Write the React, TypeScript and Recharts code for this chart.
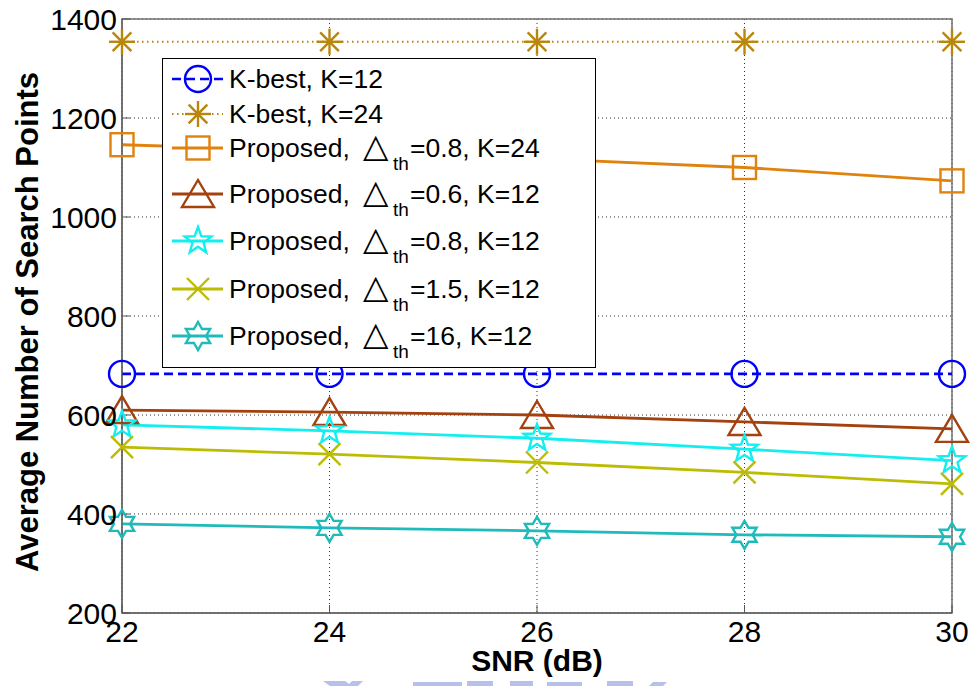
import React from "react";
import { LineChart, Line, XAxis, YAxis, CartesianGrid, Legend, ReferenceArea } from "recharts";

// SNR sweep (dB) and average number of search points per detector setting
const snr = [22, 24, 26, 28, 30];
const kBest12 = [683, 683, 683, 683, 683];
const kBest24 = [1354, 1354, 1354, 1354, 1354];
const prop08K24 = [1146, 1133, 1118, 1100, 1073];
const prop06K12 = [610, 606, 600, 586, 572];
const prop08K12 = [580, 568, 553, 531, 508];
const prop15K12 = [535, 521, 504, 484, 461];
const prop16K12 = [380, 372, 366, 358, 354];

const xTicks = [22, 24, 26, 28, 30];
const yTicks = [200, 400, 600, 800, 1000, 1200, 1400];

const FONT = "'Liberation Sans', Arial, sans-serif";

type Shape = "circle" | "asterisk" | "square" | "triangle" | "pentagram" | "cross" | "hexagram";

interface Series {
  key: string;
  values: number[];
  color: string;
  shape: Shape;
  dash?: string;
  width: number;
  label?: string;
  delta?: string;
}

const series: Series[] = [
  { key: "kb12", values: kBest12, color: "#0000ff", shape: "circle", dash: "9 5", width: 2.6, label: "K-best, K=12" },
  { key: "kb24", values: kBest24, color: "#b8860b", shape: "asterisk", dash: "1.5 3.5", width: 2, label: "K-best, K=24" },
  { key: "p08k24", values: prop08K24, color: "#e0820e", shape: "square", width: 2.8, delta: "=0.8, K=24" },
  { key: "p06k12", values: prop06K12, color: "#a3410f", shape: "triangle", width: 2.8, delta: "=0.6, K=12" },
  { key: "p08k12", values: prop08K12, color: "#14eeee", shape: "pentagram", width: 2.8, delta: "=0.8, K=12" },
  { key: "p15k12", values: prop15K12, color: "#bcbc05", shape: "cross", width: 2.8, delta: "=1.5, K=12" },
  { key: "p16k12", values: prop16K12, color: "#1fbaba", shape: "hexagram", width: 2.8, delta: "=16, K=12" },
];

const data = snr.map((s, i) => {
  const row: Record<string, number> = { snr: s };
  series.forEach((sr) => (row[sr.key] = sr.values[i]));
  return row;
});

function starPoints(cx: number, cy: number, n: number, R: number, r: number) {
  const pts: string[] = [];
  for (let i = 0; i < n * 2; i++) {
    const a = -Math.PI / 2 + (i * Math.PI) / n;
    const rad = i % 2 === 0 ? R : r;
    pts.push(`${cx + rad * Math.cos(a)},${cy + rad * Math.sin(a)}`);
  }
  return pts.join(" ");
}

function Marker({ shape, cx, cy, color }: { shape: Shape; cx: number; cy: number; color: string }) {
  const st = { fill: "none", stroke: color, strokeWidth: 2.4 };
  switch (shape) {
    case "circle":
      return <circle cx={cx} cy={cy} r={13} {...st} />;
    case "asterisk": {
      const r = 13;
      const d = r * 0.72;
      return (
        <g {...st}>
          <line x1={cx - r} y1={cy} x2={cx + r} y2={cy} />
          <line x1={cx} y1={cy - r} x2={cx} y2={cy + r} />
          <line x1={cx - d} y1={cy - d} x2={cx + d} y2={cy + d} />
          <line x1={cx - d} y1={cy + d} x2={cx + d} y2={cy - d} />
        </g>
      );
    }
    case "square":
      return <rect x={cx - 11.5} y={cy - 11.5} width={23} height={23} {...st} />;
    case "triangle":
      return <polygon points={`${cx},${cy - 14} ${cx - 16},${cy + 13} ${cx + 16},${cy + 13}`} {...st} />;
    case "pentagram":
      return <polygon points={starPoints(cx, cy, 5, 14, 5.8)} {...st} />;
    case "cross":
      return (
        <g {...st}>
          <line x1={cx - 11} y1={cy - 11} x2={cx + 11} y2={cy + 11} />
          <line x1={cx - 11} y1={cy + 11} x2={cx + 11} y2={cy - 11} />
        </g>
      );
    case "hexagram":
      return <polygon points={starPoints(cx, cy, 6, 14, 8.1)} {...st} />;
  }
  return null;
}

// legend rows: baseline of the text, measured from the top of the box
const rowBase = [30, 65, 99, 145, 192, 240, 287];

function LegendBox() {
  return (
    <svg width={434} height={310} style={{ display: "block" }}>
      <rect x={0.5} y={0.5} width={433} height={309} fill="#fff" stroke="#000" strokeWidth={1} />
      {series.map((s, i) => {
        const by = rowBase[i];
        const my = by - 9;
        return (
          <g key={s.key}>
            <line x1={10} y1={my} x2={61} y2={my} stroke={s.color} strokeWidth={s.width} strokeDasharray={s.dash} />
            <Marker shape={s.shape} cx={36} cy={my} color={s.color} />
            {s.label ? (
              <text x={67} y={by} fontFamily={FONT} fontSize={26.5} fill="#000">
                {s.label}
              </text>
            ) : (
              <text y={by} fontFamily={FONT} fontSize={26.5} fill="#000">
                <tspan x={67}>Proposed,</tspan>
                <tspan x={201} fontFamily="'DejaVu Sans', sans-serif" fontSize={33}>
                  △
                </tspan>
                <tspan x={231} dy={13} fontSize={19}>
                  th
                </tspan>
                <tspan x={248} dy={-13}>
                  {s.delta}
                </tspan>
              </text>
            )}
          </g>
        );
      })}
    </svg>
  );
}

// faint stamp peeking in along the bottom edge of the page
const stampBits = [
  "323,681 345,681 352,686 330,686",
  "352,681 363,681 358,686 347,686",
  "413,682 462,682 462,686 413,686",
  "467,681 493,681 493,686 467,686",
  "510,681 533,681 533,686 510,686",
  "547,682 582,682 582,686 547,686",
  "607,681 633,681 633,686 607,686",
  "653,682 667,682 663,686 649,686",
];

export default function App() {
  return (
    <div style={{ position: "absolute", left: 0, top: 0, width: 971, height: 686, background: "#fff" }}>
      <svg width={971} height={686} style={{ position: "absolute", left: 0, top: 0 }}>
        {stampBits.map((p, i) => (
          <polygon key={i} points={p} fill="#b6c0e8" />
        ))}
      </svg>
      <LineChart width={971} height={686} data={data} margin={{ top: 19, right: 19, left: 0, bottom: 0 }}>
        <CartesianGrid stroke="#333" strokeDasharray="1 3" strokeWidth={1} />
        <XAxis
          dataKey="snr"
          type="number"
          domain={[22, 30]}
          ticks={xTicks}
          height={73}
          tickSize={-8}
          tickMargin={16}
          stroke="#555"
          tick={{ fontSize: 30, fill: "#000", fontFamily: FONT }}
          label={(p: any) => (
            <text
              x={p.viewBox.x + p.viewBox.width / 2}
              y={p.viewBox.y + 58}
              textAnchor="middle"
              fontFamily={FONT}
              fontWeight="bold"
              fontSize={30}
              fill="#000"
            >
              SNR (dB)
            </text>
          )}
        />
        <YAxis
          type="number"
          domain={[200, 1400]}
          ticks={yTicks}
          width={122}
          tickSize={-8}
          tickMargin={13}
          stroke="#555"
          tick={{ fontSize: 30, fill: "#000", fontFamily: FONT }}
          label={(p: any) => {
            const x = p.viewBox.x + 38;
            const y = p.viewBox.y + p.viewBox.height / 2 + 6;
            return (
              <text
                x={x}
                y={y}
                transform={`rotate(-90 ${x} ${y})`}
                textAnchor="middle"
                fontFamily={FONT}
                fontWeight="bold"
                fontSize={31}
                fill="#000"
              >
                Average Number of Search Points
              </text>
            );
          }}
        />
        <ReferenceArea x1={22} x2={30} y1={200} y2={1400} fill="none" stroke="#6f6f6f" strokeWidth={1.5} />
        {series.map((s) => (
          <Line
            key={s.key}
            dataKey={s.key}
            type="linear"
            stroke={s.color}
            strokeWidth={s.width}
            strokeDasharray={s.dash}
            isAnimationActive={false}
            activeDot={false}
            dot={(p: any) => (
              <g key={`${s.key}-${p.index}`}>
                <Marker shape={s.shape} cx={p.cx} cy={p.cy} color={s.color} />
              </g>
            )}
          />
        ))}
        <Legend
          layout="vertical"
          align="center"
          verticalAlign="middle"
          wrapperStyle={{ left: 162, top: 58, width: 434, height: 310 }}
          content={() => <LegendBox />}
        />
      </LineChart>
    </div>
  );
}
